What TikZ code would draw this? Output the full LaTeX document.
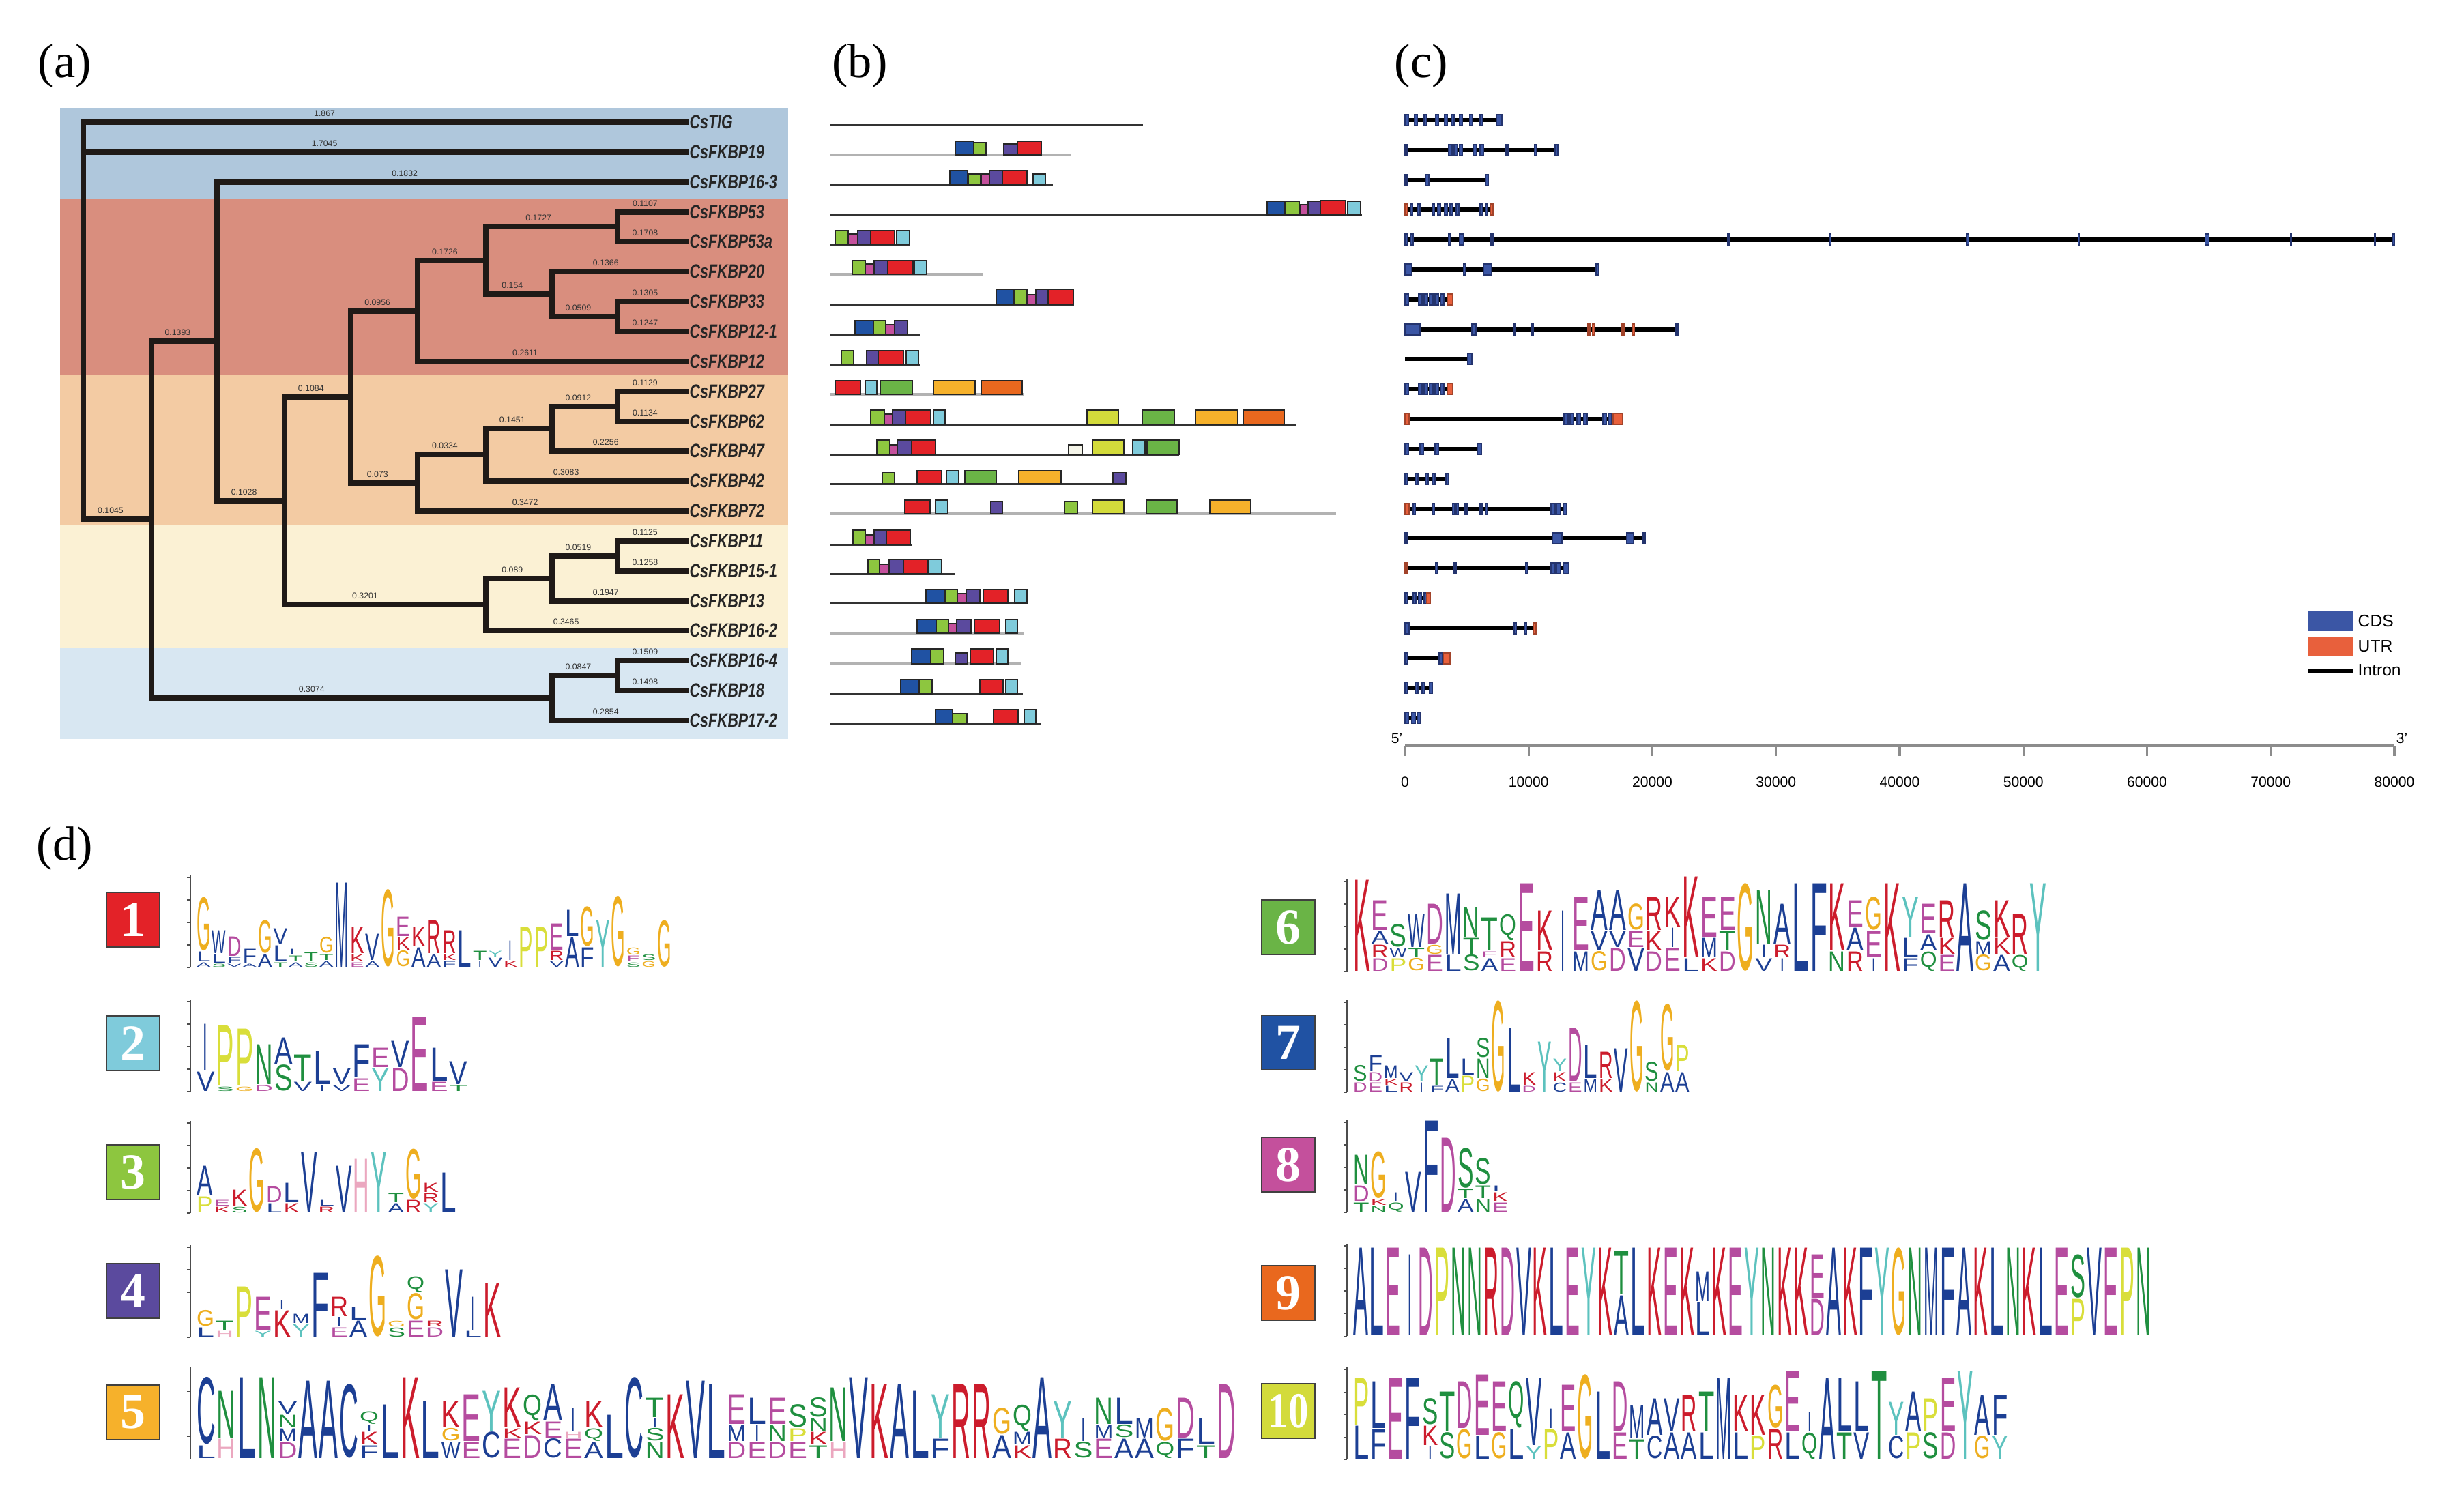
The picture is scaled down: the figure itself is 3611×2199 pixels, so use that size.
\documentclass[tikz,border=0pt]{standalone}
\usepackage{fontspec}
\setmainfont{Liberation Serif}
\setsansfont{Liberation Sans}
\usepackage{graphicx}
\newdimen\upx \upx=0.01cm
\definecolor{m1}{HTML}{E32228}
\definecolor{m2}{HTML}{7FCBDB}
\definecolor{m3}{HTML}{8DC63F}
\definecolor{m4}{HTML}{5B4A9E}
\definecolor{m5}{HTML}{F6B12B}
\definecolor{m6}{HTML}{6AB446}
\definecolor{m7}{HTML}{2052A3}
\definecolor{m8}{HTML}{C4509C}
\definecolor{m9}{HTML}{E9681E}
\definecolor{m10}{HTML}{D3DB3B}
\definecolor{mw}{HTML}{F4F4E8}
\definecolor{bandblue}{HTML}{AFC7DC}
\definecolor{bandred}{HTML}{D98E7E}
\definecolor{bandpeach}{HTML}{F3CBA3}
\definecolor{bandyellow}{HTML}{FBF1D4}
\definecolor{bandlblue}{HTML}{D8E7F2}
\definecolor{treecol}{HTML}{1F1A17}
\definecolor{cdsblue}{HTML}{3B56A5}
\definecolor{cdsdark}{HTML}{24346E}
\definecolor{utrred}{HTML}{E8603C}
\definecolor{aahyd}{HTML}{1C3F94}
\definecolor{aapos}{HTML}{CC1C2C}
\definecolor{aaneg}{HTML}{B54C9F}
\definecolor{aapol}{HTML}{1F8F3F}
\definecolor{aagly}{HTML}{EEAE1F}
\definecolor{aapro}{HTML}{D9DE3A}
\definecolor{aahis}{HTML}{EBA7BF}
\definecolor{aatyr}{HTML}{5CC2BE}
\newcommand\setaa[3]{\colorlet{aa#1}{#2}\expandafter\def\csname aaw#1\endcsname{#3}}
\setaa{A}{aahyd}{1}\setaa{C}{aahyd}{1}\setaa{F}{aahyd}{1}\setaa{I}{aahyd}{0.3}
\setaa{L}{aahyd}{1}\setaa{M}{aahyd}{1}\setaa{V}{aahyd}{1}\setaa{W}{aahyd}{1}
\setaa{K}{aapos}{1}\setaa{R}{aapos}{1}\setaa{D}{aaneg}{1}\setaa{E}{aaneg}{1}
\setaa{N}{aapol}{1}\setaa{Q}{aapol}{1}\setaa{S}{aapol}{1}\setaa{T}{aapol}{1}
\setaa{G}{aagly}{1}\setaa{P}{aapro}{1}\setaa{H}{aahis}{1}\setaa{Y}{aatyr}{1}
% logo: #1 x0, #2 baseline, #3 column width, #4 columns (bottom to top)
\newcommand\drawlogo[4]{%
  \draw[line width=0.3pt, black!70] ({#1-8},#2) -- ({#1-8},{#2-135});
  \foreach \tk in {0,1,2,3,4} {\draw[line width=0.3pt, black!70] ({#1-8},{#2-\tk*33}) -- ({#1-13},{#2-\tk*33});}
  \foreach \col [count=\ci from 0] in {#4} {%
    \xdef\ycur{#2}%
    \foreach \lt/\hh in \col {%
      \pgfmathsetmacro\lwid{#3*\csname aaw\lt\endcsname-2}%
      \pgfmathsetmacro\lhh{max(\hh-1.6,1)}%
      \node[inner sep=0pt, outer sep=0pt, anchor=south] at ({#1+(\ci+0.5)*#3},{\ycur-0.8})
        {\resizebox*{\lwid\upx}{\lhh\upx}{\sffamily\color{aa\lt}\lt}};
      \pgfmathsetmacro\ynew{\ycur-\hh}%
      \xdef\ycur{\ynew}%
    }%
  }%
}
% motif row (b): #1 y, #2 end x, #3 line style, #4 boxes x1/x2/colour/height
\newcommand\mrow[4]{%
  \draw[#3] (1216,#1) -- (#2,#1);
  \foreach \xa/\xb/\cc/\hh in {#4} {\draw[mbox, fill=\cc] (\xa,#1) rectangle (\xb,{#1-\hh});}
}
% gene row (c): #1 y, #2 end offset, #3 exons style/offset/width
\newcommand\generow[3]{%
  \draw[intron] (2059,#1) -- ({2059+#2},#1);
  \foreach \ty/\ox/\wx in {#3} {\path[\ty] ({2059+\ox},{#1-8}) rectangle ({2059+\ox+\wx},{#1+8});}
}
\begin{document}
\begin{tikzpicture}[x=0.01cm,y=-0.01cm,
  panel/.style={font=\fontsize{20}{24}\selectfont, inner sep=0pt},
  br/.style={line width=2.2pt, color=treecol, line cap=rect},
  blab/.style={font=\fontsize{3.5}{4}\selectfont\sffamily, text=black!80, inner sep=0pt, anchor=south},
  leaf/.style={font=\fontsize{8}{9}\selectfont\sffamily\bfseries\itshape, text=black!85, inner sep=0pt, anchor=west},
  bline/.style={line width=0.85pt, color=black!80},
  gline/.style={line width=1.1pt, color=black!30},
  mbox/.style={draw=black!85, line width=0.6pt},
  intron/.style={line width=1.5pt, color=black},
  xc/.style={fill=cdsblue, draw=cdsdark, line width=0.3pt},
  xu/.style={fill=utrred, draw=utrred!70!black, line width=0.3pt},
  axlab/.style={font=\fontsize{6}{7}\selectfont\sffamily, inner sep=0pt},
  numbox/.style={draw=black!75, line width=0.8pt, minimum width=0.78cm, minimum height=0.8cm, inner sep=0pt, text=white, font=\fontsize{21}{21}\selectfont\bfseries}
]
\useasboundingbox (0,0) rectangle (3611,2199);
\fill[white] (0,0) rectangle (3611,2199);

% ---------- panel labels ----------
\node[panel] (la) at (95,97) {(a)};
\node[panel] (lb) at (1260,97) {(b)};
\node[panel] (lc) at (2083,97) {(c)};
\node[panel] (ld) at (95,1244) {(d)};

% ---------- (a) tree ----------
\fill[bandblue] (88,159) rectangle (1155,292);
\fill[bandred] (88,292) rectangle (1155,550);
\fill[bandpeach] (88,550) rectangle (1155,769);
\fill[bandyellow] (88,769) rectangle (1155,950);
\fill[bandlblue] (88,950) rectangle (1155,1083);

\foreach \xp/\xc/\yy/\bl in {
 122/1006/179/1.867, 122/1006/223/1.7045, 318/1006/267/0.1832,
 905/1006/311/0.1107, 905/1006/354/0.1708, 712/905/332/0.1727,
 809/1006/398/0.1366, 905/1006/442/0.1305, 905/1006/486/0.1247,
 809/905/464/0.0509, 712/809/431/0.154, 612/712/382/0.1726,
 612/1006/530/0.2611, 514/612/456/0.0956,
 905/1006/574/0.1129, 905/1006/618/0.1134, 809/905/596/0.0912,
 809/1006/661/0.2256, 712/809/628/0.1451, 712/1006/705/0.3083,
 612/712/666/0.0334, 612/1006/749/0.3472, 514/612/708/0.073,
 417/514/582/0.1084,
 905/1006/793/0.1125, 905/1006/837/0.1258, 809/905/815/0.0519,
 809/1006/881/0.1947, 712/809/848/0.089, 712/1006/924/0.3465,
 417/712/886/0.3201, 318/417/734/0.1028, 222/318/500/0.1393,
 905/1006/968/0.1509, 905/1006/1012/0.1498, 809/905/990/0.0847,
 809/1006/1056/0.2854, 222/809/1023/0.3074, 122/222/761/0.1045} {
  \draw[br] (\xp,\yy) -- (\xc,\yy);
  \node[blab] at ({(\xp+\xc)/2-0.1*(\xc-\xp)},{\yy-8}) {\bl};
}
\foreach \xx/\ya/\yb in {122/179/761, 222/500/1023, 318/267/734, 417/582/886,
 514/456/708, 612/382/530, 712/332/431, 905/311/354, 809/398/464, 905/442/486,
 612/666/749, 712/628/705, 809/596/661, 905/574/618, 712/848/924, 809/815/881,
 905/793/837, 809/990/1056, 905/968/1012} {
  \draw[br] (\xx,\ya) -- (\xx,\yb);
}
\foreach \yy/\nm [count=\k] in {179/CsTIG, 223/CsFKBP19, 267/CsFKBP16-3, 311/CsFKBP53,
 354/CsFKBP53a, 398/CsFKBP20, 442/CsFKBP33, 486/CsFKBP12-1, 530/CsFKBP12,
 574/CsFKBP27, 618/CsFKBP62, 661/CsFKBP47, 705/CsFKBP42, 749/CsFKBP72,
 793/CsFKBP11, 837/CsFKBP15-1, 881/CsFKBP13, 924/CsFKBP16-2, 968/CsFKBP16-4,
 1012/CsFKBP18, 1056/CsFKBP17-2} {
  \node[leaf] (leaf\k) at (1010,\yy) {\scalebox{0.76}[1]{\nm}};
}

% ---------- (b) motifs ----------
\draw[bline] (1216,183) -- (1675,183);
\mrow{227}{1570}{gline}{1400/1427/m7/20, 1427/1445/m3/18, 1471/1491/m4/16, 1491/1526/m1/20}
\mrow{271}{1543}{bline}{1392/1418/m7/21, 1419/1437/m3/16, 1438/1450/m8/16, 1450/1469/m4/21, 1469/1505/m1/21, 1514/1532/m2/16}
\mrow{315}{1996}{bline}{1857/1882/m7/20, 1884/1904/m3/20, 1905/1917/m8/15, 1917/1935/m4/20, 1935/1972/m1/21, 1975/1994/m2/20}
\mrow{358}{1334}{bline}{1224/1243/m3/20, 1243/1257/m8/15, 1257/1276/m4/20, 1276/1311/m1/20, 1314/1333/m2/20}
\mrow{402}{1440}{gline}{1249/1268/m3/20, 1268/1281/m8/15, 1281/1301/m4/20, 1301/1338/m1/20, 1340/1358/m2/20}
\mrow{446}{1574}{bline}{1460/1486/m7/22, 1486/1505/m3/22, 1505/1518/m8/14, 1518/1536/m4/22, 1536/1573/m1/22}
\mrow{490}{1348}{bline}{1253/1280/m7/20, 1280/1298/m3/20, 1298/1311/m8/14, 1311/1330/m4/20}
\mrow{534}{1348}{bline}{1233/1251/m3/20, 1270/1287/m4/20, 1287/1324/m1/20, 1328/1346/m2/20}
\mrow{578}{1500}{gline}{1224/1261/m1/20, 1268/1285/m2/20, 1290/1337/m6/20, 1368/1429/m5/20, 1438/1498/m9/20}
\mrow{622}{1900}{bline}{1276/1296/m3/21, 1296/1308/m8/15, 1308/1327/m4/21, 1327/1364/m1/21, 1368/1385/m2/21, 1593/1639/m10/21, 1674/1721/m6/21, 1752/1814/m5/21, 1822/1882/m9/21}
\mrow{666}{1728}{bline}{1285/1304/m3/21, 1304/1315/m8/14, 1315/1336/m4/21, 1336/1371/m1/21, 1566/1586/mw/14, 1601/1647/m10/21, 1660/1678/m2/21, 1681/1728/m6/21}
\mrow{709}{1651}{bline}{1293/1311/m3/16, 1344/1380/m1/19, 1387/1405/m2/19, 1414/1460/m6/19, 1493/1555/m5/19, 1631/1650/m4/16}
\mrow{753}{1958}{gline}{1326/1363/m1/20, 1371/1389/m2/20, 1452/1469/m4/18, 1560/1579/m3/18, 1601/1647/m10/20, 1680/1725/m6/20, 1773/1833/m5/20}
\mrow{798}{1337}{bline}{1250/1268/m3/21, 1268/1281/m8/14, 1281/1299/m4/21, 1299/1334/m1/21}
\mrow{841}{1399}{bline}{1272/1289/m3/21, 1289/1303/m8/14, 1303/1324/m4/21, 1324/1360/m1/21, 1360/1380/m2/21}
\mrow{884}{1507}{bline}{1357/1385/m7/20, 1385/1403/m3/20, 1403/1416/m8/14, 1416/1436/m4/20, 1441/1477/m1/20, 1487/1505/m2/20}
\mrow{928}{1501}{gline}{1344/1372/m7/20, 1372/1390/m3/20, 1390/1402/m8/14, 1402/1423/m4/20, 1428/1465/m1/20, 1474/1491/m2/20}
\mrow{973}{1497}{gline}{1336/1364/m7/22, 1364/1383/m3/22, 1400/1418/m4/16, 1422/1456/m1/22, 1460/1477/m2/22}
\mrow{1017}{1499}{bline}{1320/1347/m7/21, 1347/1366/m3/21, 1436/1470/m1/21, 1474/1491/m2/21}
\mrow{1060}{1526}{bline}{1371/1396/m7/20, 1396/1417/m3/14, 1456/1492/m1/20, 1501/1518/m2/20}

% ---------- (c) gene structure ----------
\generow{176}{142}{xc/0/5,xc/14/4,xc/28/4,xc/45/4,xc/58/4,xc/68/4,xc/80/4,xc/95/4,xc/110/4,xc/134/8}
\generow{220}{224}{xc/0/3,xc/64/5,xc/72/5,xc/80/4,xc/100/5,xc/110/5,xc/148/3,xc/190/3,xc/220/4}
\generow{264}{121}{xc/0/3,xc/30/5,xc/118/4}
\generow{307}{129}{xu/0/4,xc/8/3,xc/18/4,xc/40/3,xc/48/4,xc/58/4,xc/66/4,xc/75/4,xc/110/4,xc/118/3,xu/125/4}
\generow{351}{1450}{xc/0/4,xc/8/4,xc/64/3,xc/80/6,xc/126/3,xc/473/2,xc/622/2,xc/822/4,xc/986/2,xc/1172/6,xc/1297/2,xc/1420/2,xc/1447/3}
\generow{395}{283}{xc/0/10,xc/86/3,xc/115/12,xc/280/4}
\generow{439}{70}{xc/0/5,xc/20/5,xc/28/5,xc/36/5,xc/44/5,xc/52/5,xu/62/8}
\generow{483}{399}{xc/0/22,xc/98/6,xc/160/2,xc/186/2,xu/268/3,xu/275/3,xu/318/3,xu/333/3,xc/397/3}
\generow{526}{98}{xc/92/6}
\generow{570}{70}{xc/0/5,xc/20/5,xc/28/5,xc/36/5,xc/44/5,xc/52/5,xu/62/8}
\generow{614}{319}{xu/0/6,xc/233/6,xc/242/5,xc/252/5,xc/262/5,xc/290/5,xc/298/5,xu/305/14}
\generow{658}{111}{xc/0/5,xc/22/5,xc/44/5,xc/106/6}
\generow{702}{63}{xc/0/4,xc/15/4,xc/30/4,xc/40/4,xc/60/4}
\generow{746}{236}{xu/0/6,xc/12/3,xc/40/3,xc/70/3,xc/75/3,xc/88/3,xc/110/3,xc/118/3,xc/214/6,xc/222/6,xc/232/5}
\generow{789}{352}{xc/0/3,xc/216/14,xc/325/10,xc/349/3}
\generow{833}{240}{xu/0/3,xc/45/3,xc/72/3,xc/177/3,xc/214/6,xc/222/6,xc/232/8}
\generow{877}{36}{xc/0/4,xc/12/4,xc/20/4,xc/28/4,xu/32/5}
\generow{921}{191}{xc/0/6,xc/160/3,xc/175/3,xu/188/4}
\generow{965}{65}{xc/0/4,xc/50/5,xu/56/10}
\generow{1008}{39}{xc/0/4,xc/15/4,xc/25/4,xc/36/4}
\generow{1052}{22}{xc/0/5,xc/10/5,xc/18/5}

\draw[line width=0.9pt, black!45] (2059,1093) -- (3509,1093);
\foreach \k/\lab in {0/0,1/10000,2/20000,3/30000,4/40000,5/50000,6/60000,7/70000,8/80000} {
  \draw[line width=0.9pt, black!45] ({2059+\k*181.25},1093) -- ({2059+\k*181.25},1108);
  \node[axlab] (ax\k) at ({2059+\k*181.25},1146) {\lab};
}
\node[axlab, anchor=south] (five) at (2047,1090) {5'};
\node[axlab, anchor=south] (three) at (3520,1090) {3'};

\fill[cdsblue] (3382,895) rectangle (3449,925);
\fill[utrred] (3382,933) rectangle (3449,961);
\draw[line width=1.6pt] (3382,984) -- (3449,984);
\node[axlab, font=\fontsize{7}{8}\selectfont\sffamily, anchor=west] (lgc) at (3455,910) {CDS};
\node[axlab, font=\fontsize{7}{8}\selectfont\sffamily, anchor=west] (lgu) at (3455,947) {UTR};
\node[axlab, font=\fontsize{7}{8}\selectfont\sffamily, anchor=west] (lgi) at (3455,982) {Intron};

% ---------- (d) motif logos ----------
\node[numbox, fill=m1] (n1) at (195,1348) {1};
\node[numbox, fill=m2] (n2) at (195,1529) {2};
\node[numbox, fill=m3] (n3) at (195,1718) {3};
\node[numbox, fill=m4] (n4) at (195,1892) {4};
\node[numbox, fill=m5] (n5) at (195,2070) {5};
\node[numbox, fill=m6] (n6) at (1888,1359) {6};
\node[numbox, fill=m7] (n7) at (1888,1528) {7};
\node[numbox, fill=m8] (n8) at (1888,1707) {8};
\node[numbox, fill=m9] (n9) at (1888,1895) {9};
\node[numbox, fill=m10] (n10) at (1888,2068) {\scalebox{0.8}[1]{10}};

\drawlogo{287}{1418}{22.5}{{A/8,L/16,G/80},{S/6,L/14,W/35},{V/6,F/10,D/30},{A/6,F/22},{A/20,G/50},{T/8,L/25,V/25},{A/8,T/10,L/10},{S/8,T/15},{A/10,T/10,G/25},{M/125},{E/8,K/12,K/40},{A/10,V/40},{G/115},{G/25,K/20,E/30},{A/30,K/30},{A/20,R/50},{F/10,K/10,R/35},{L/55},{I/10,T/15},{V/15,Y/10},{K/10,I/30},{P/60},{P/60},{V/10,R/15,E/40},{A/45,L/40},{F/30,G/60},{Y/70},{G/105},{S/8,E/10,G/12},{G/10,S/10},{G/70}}

\drawlogo{287}{1600}{28.5}{{V/30,I/70},{S/8,P/90},{G/8,P/85},{D/10,N/60},{S/40,A/40},{V/15,T/40},{I/10,L/50},{V/10,V/25},{E/20,F/50},{Y/35,E/30},{D/35,V/40},{E/110},{E/15,L/50},{T/10,V/35}}

\drawlogo{287}{1778}{25.5}{{P/25,A/45},{K/10,E/10},{S/10,K/25},{G/95},{L/15,D/25},{K/15,L/30},{V/90},{R/10,L/10},{V/70},{H/80},{Y/90},{A/15,T/15},{R/20,G/75},{Y/15,R/15,K/15},{L/60}}

\drawlogo{287}{1960}{28}{{L/15,G/25},{H/10,T/15},{P/75},{Y/10,E/50},{K/40,I/15},{Y/20,M/15},{F/95},{E/15,I/15,R/30},{A/25,L/20},{G/120},{S/15,G/10},{E/25,G/40,Q/25},{D/15,R/10},{V/100},{L/10,I/50},{K/80}}

\drawlogo{287}{2138}{29.9}{{L/20,C/100},{H/30,N/70},{L/120},{N/120},{D/25,M/20,N/20,V/20},{A/115},{A/115},{C/110},{F/20,K/20,I/10,Q/20},{L/80},{K/120},{L/85},{W/25,G/20,K/40},{E/25,E/70},{C/40,Y/60},{E/30,K/15,K/60},{D/35,K/20,Q/40},{C/30,E/25,A/55},{E/30,H/10,I/35},{A/25,Q/20,K/40},{L/65},{C/120},{N/25,S/20,I/15,T/30},{K/95},{V/115},{L/110},{D/25,M/25,E/45},{E/25,I/25,L/40},{D/25,N/25,E/40},{E/25,P/20,S/35},{T/20,K/20,N/20,S/30},{H/25,N/80},{V/120},{K/110},{A/110},{L/100},{F/30,Y/65},{R/110},{R/110},{A/35,G/40},{K/20,M/20,Q/40},{A/120},{R/30,Y/55},{S/25,I/35},{E/30,M/20,N/40},{A/30,S/20,L/40},{A/30,M/30},{Q/25,G/50},{F/30,D/60},{T/20,L/40},{D/110}}

\drawlogo{1982}{1424}{26.8}{{K/135},{D/20,R/20,A/20,E/45},{P/20,W/15,S/35},{G/20,T/15,W/50},{E/25,G/15,D/60},{L/25,M/90},{S/25,T/25,N/45},{A/20,E/10,T/50},{E/20,R/25,Q/40},{E/130},{R/30,K/60},{I/90},{M/30,E/80},{G/30,V/30,A/60},{D/35,V/25,A/60},{V/35,E/25,G/40},{D/30,K/30,R/50},{E/35,I/30,K/45},{L/20,K/120},{K/20,M/30,E/60},{D/30,T/30,E/50},{G/130},{V/20,I/20,N/80},{I/20,R/20,A/60},{L/130},{F/130},{N/30,K/100},{R/30,A/35,E/40},{I/20,E/40,G/50},{K/130},{F/20,L/30,Y/60},{Q/30,A/25,E/45},{E/25,K/25,R/55},{A/130},{G/25,M/20,S/45},{A/25,K/25,K/55},{Q/25,R/60},{Y/130}}

\drawlogo{1982}{1601}{22.5}{{D/15,S/25},{E/15,D/15,F/25},{L/10,K/10,M/20},{R/15,V/15},{I/15,Y/25},{F/10,T/40},{A/20,L/60},{P/25,L/25},{G/20,N/30,S/30},{G/135},{L/95},{D/10,K/20},{Y/75},{C/15,K/15,Y/20},{E/15,D/80},{M/20,L/50},{K/20,R/40},{V/65},{G/135},{N/15,S/30},{A/30,G/100},{A/30,P/40}}

\drawlogo{1982}{1777}{25.5}{{T/15,D/25,N/45},{N/10,K/10,G/70},{Q/15,I/15},{V/60},{F/135},{D/110},{A/20,T/15,S/60},{N/20,T/20,S/40},{E/15,K/15,L/10}}

\drawlogo{1982}{1958}{23.9}{{A/130},{L/130},{E/130},{I/120},{D/130},{P/130},{N/130},{N/130},{R/130},{D/130},{V/130},{K/130},{L/130},{E/130},{Y/130},{K/130},{A/60,T/65},{L/130},{K/130},{E/130},{K/130},{L/50,M/45},{K/130},{E/130},{Y/130},{N/130},{K/130},{K/130},{D/55,E/65},{A/130},{K/130},{F/130},{Y/130},{G/130},{N/130},{M/130},{F/130},{A/130},{K/130},{L/130},{N/130},{K/130},{L/130},{E/130},{P/55,S/65},{V/130},{E/130},{P/130},{N/130}}

\drawlogo{1982}{2139}{25.3}{{L/50,P/70},{F/45,L/70},{E/120},{F/120},{I/20,K/30,S/40},{S/40,T/60},{G/45,D/70},{L/35,E/90},{G/40,E/75},{L/45,Q/70},{Y/20,V/100},{P/45,I/30},{A/40,E/70},{G/125},{L/100},{E/40,D/75},{T/30,M/50},{C/35,A/55},{A/40,V/50},{A/40,R/55},{L/40,T/60},{M/120},{L/40,K/55},{P/35,K/60},{R/45,G/65},{L/40,E/90},{Q/40,I/30},{A/120},{T/40,L/80},{V/40,L/75},{T/130},{C/35,Y/50},{P/40,A/60},{S/40,P/50},{D/40,E/80},{Y/130},{G/35,A/60},{Y/35,F/60}}

\end{tikzpicture}
\end{document}
